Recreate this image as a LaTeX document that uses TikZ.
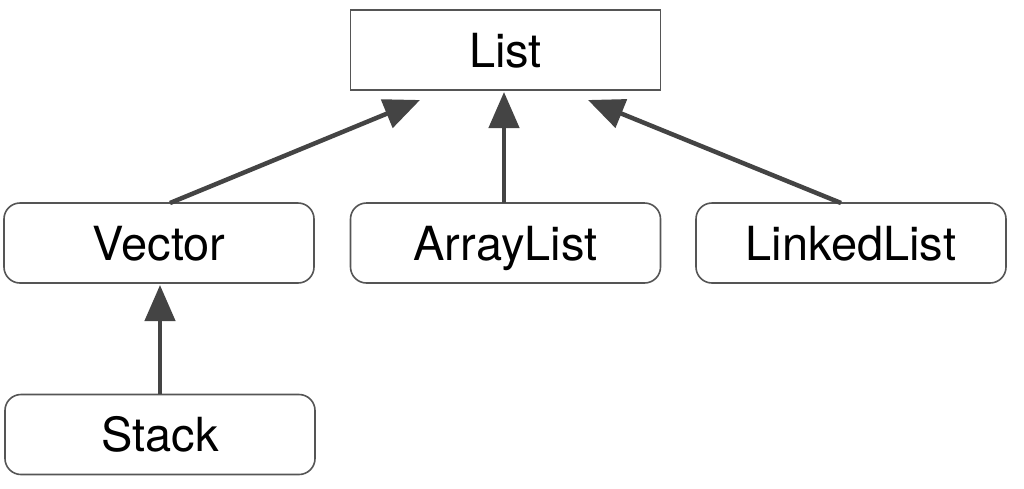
\documentclass[tikz,border=0pt]{standalone}
\usepackage{fontspec}
\setmainfont{TeX Gyre Heros}
\usetikzlibrary{arrows.meta}
\definecolor{edge}{HTML}{444444}
\definecolor{frame}{HTML}{555555}
\tikzset{
  cls/.style={draw=frame, line width=1.6pt, minimum width=310pt, minimum height=80pt, inner sep=0pt, text height=34pt, text depth=0pt, font=\fontsize{47}{52}\selectfont},
  rbox/.style={cls, rounded corners=16pt},
  inh/.style={draw=edge, line width=4.5pt, -{Triangle[length=36pt,width=30pt]}}
}
\begin{document}
\begin{tikzpicture}[x=1pt,y=-1pt]
\useasboundingbox[fill=white] (0,0) rectangle (1024,488);
\node[cls] (list) at (505.5,50) {List};
\node[rbox] (vector) at (159,243) {Vector};
\node[rbox] (array) at (505.5,243) {ArrayList};
\node[rbox] (linked) at (851,243) {LinkedList};
\node[rbox] (stack) at (160,434.5) {Stack};
\coordinate (lt) at (420,100);
\coordinate (mt) at (504,92);
\coordinate (rt) at (588,100);
\coordinate (vs) at (170,203);
\coordinate (as) at (504,203);
\coordinate (ls) at (841,203);
\coordinate (vt) at (160,285);
\coordinate (ss) at (160,394);
\draw[inh] (vs) -- (lt);
\draw[inh] (as) -- (mt);
\draw[inh] (ls) -- (rt);
\draw[inh] (ss) -- (vt);
\end{tikzpicture}
\end{document}
